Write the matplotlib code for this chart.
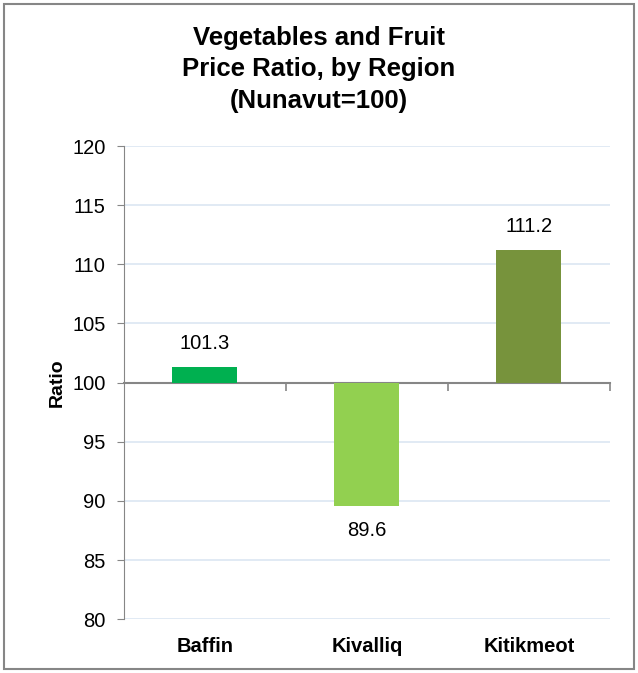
import matplotlib.pyplot as plt
from matplotlib.patches import Rectangle
from matplotlib.transforms import blended_transform_factory

plt.rcParams['font.family'] = ['Liberation Sans', 'DejaVu Sans']

regions = ["Baffin", "Kivalliq", "Kitikmeot"]
ratios = [101.3, 89.6, 111.2]
colors = ["#00B050", "#92D050", "#77933C"]
baseline = 100

fig = plt.figure(figsize=(6.38, 6.73), dpi=100)
ax = fig.add_axes([0.194, 0.080, 0.762, 0.703])

x = range(len(regions))
heights = [v - baseline for v in ratios]
ax.bar(x, heights, bottom=baseline, width=0.4, color=colors, zorder=3)

ax.set_xlim(-0.5, 2.5)
ax.set_ylim(80, 120)
ax.set_yticks(range(80, 121, 5))
ax.yaxis.grid(True, color="#DCE6F2", linewidth=1.2, zorder=0)
ax.tick_params(axis="y", labelsize=14.5, length=5, pad=8, color="#868686", direction="out")

# category axis sits at the 100 baseline
for side in ["top", "right"]:
    ax.spines[side].set_visible(False)
ax.spines["left"].set_color("#868686")
ax.spines["bottom"].set_position(("data", baseline))
ax.spines["bottom"].set_color("#868686")
ax.spines["bottom"].set_linewidth(1.5)
ax.set_xticks([0.5, 1.5, 2.5])
ax.set_xticklabels([])
ax.tick_params(axis="x", length=6, color="#868686", direction="out", width=1.2)

trans = blended_transform_factory(ax.transData, ax.transAxes)
for i, name in enumerate(regions):
    ax.text(i, -0.058, name, transform=trans, ha="center", va="center",
            fontsize=14.5, fontweight="bold")

for i, v in enumerate(ratios):
    if v >= baseline:
        ax.annotate(f"{v:.1f}", (i, v), xytext=(0, 17), textcoords="offset points",
                    ha="center", va="center", fontsize=14.5)
    else:
        ax.annotate(f"{v:.1f}", (i, v), xytext=(0, -18), textcoords="offset points",
                    ha="center", va="center", fontsize=14.5)

ax.set_ylabel("Ratio", fontsize=14, fontweight="bold", labelpad=5)

fig.text(0.5, 0.897, "Vegetables and Fruit\nPrice Ratio, by Region\n(Nunavut=100)",
         ha="center", va="center", fontsize=18.5, fontweight="bold", linespacing=1.38)

fig.patches.append(Rectangle((0.006, 0.006), 0.988, 0.988, transform=fig.transFigure,
                             fill=False, edgecolor="#868686", linewidth=1.5))

plt.savefig("out.png", dpi=100)
plt.close()
